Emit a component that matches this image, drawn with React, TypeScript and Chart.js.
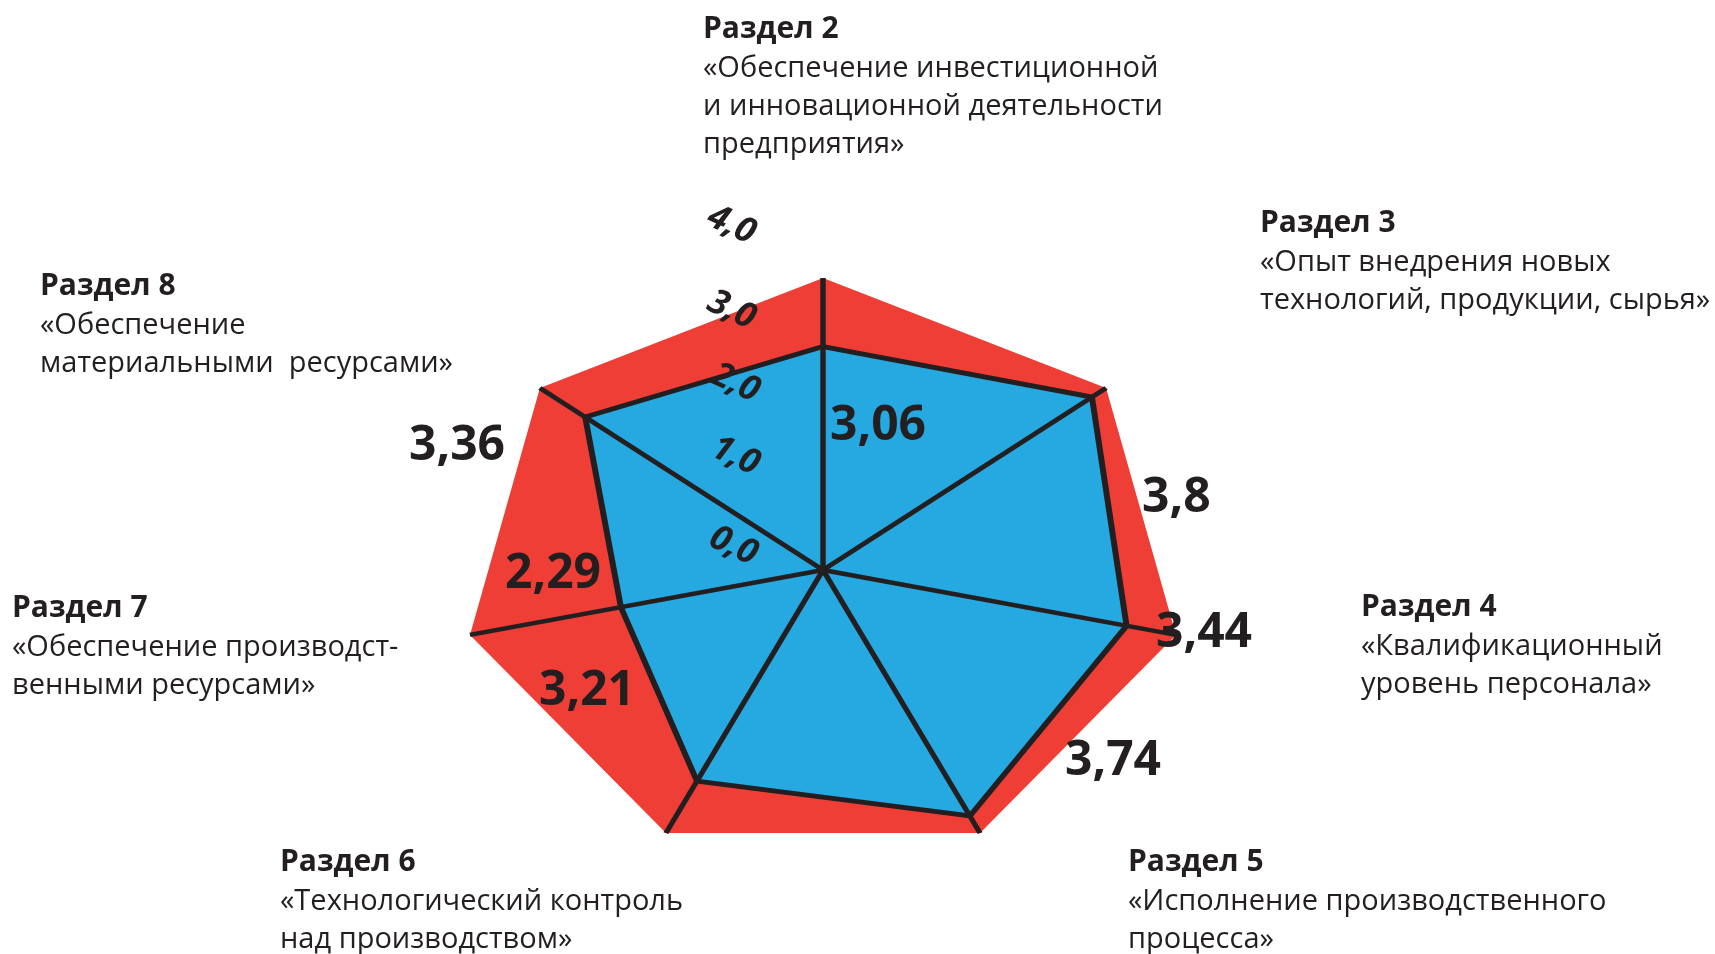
import React, { useEffect, useRef } from 'react';
import { Chart, registerables } from 'chart.js';

Chart.register(...registerables);

// ---------- data ----------
const categories = ['Раздел 2', 'Раздел 3', 'Раздел 4', 'Раздел 5', 'Раздел 6', 'Раздел 7', 'Раздел 8'];
const descriptions = [
  ['«Обеспечение инвестиционной', 'и инновационной деятельности', 'предприятия»'],
  ['«Опыт внедрения новых', 'технологий, продукции, сырья»'],
  ['«Квалификационный', 'уровень персонала»'],
  ['«Исполнение производственного', 'процесса»'],
  ['«Технологический контроль', 'над производством»'],
  ['«Обеспечение производст-', 'венными ресурсами»'],
  ['«Обеспечение', 'материальными  ресурсами»'],
];
const scores = [3.06, 3.8, 3.44, 3.74, 3.21, 2.29, 3.36];
const maxScores = [4, 4, 4, 4, 4, 4, 4];
const scoreLabels = ['3,06', '3,8', '3,44', '3,74', '3,21', '2,29', '3,36'];
const tickLabels = ['4,0', '3,0', '2,0', '1,0', '0,0'];

// ---------- layout / style ----------
const W = 1715;
const H = 954;
const RED = '#EF3E36';
const BLUE = '#25A9E0';
const INK = '#231F20';
const STRETCH_X = 1.24;
const FONT = '"Open Sans", "Noto Sans", sans-serif';

const blockPos = [
  { left: 703, base: 39 },
  { left: 1260, base: 233 },
  { left: 1361, base: 617 },
  { left: 1128, base: 872 },
  { left: 280, base: 872 },
  { left: 12, base: 618 },
  { left: 40, base: 296 },
];
const valuePos = [
  { left: 830, base: 440 },
  { left: 1142, base: 512 },
  { left: 1156, base: 647 },
  { left: 1065, base: 775 },
  { left: 539, base: 705 },
  { left: 505, base: 588 },
  { left: 409, base: 460 },
];
const tickPos = [
  { x: 733, y: 222 },
  { x: 733, y: 307 },
  { x: 737, y: 380 },
  { x: 737, y: 453 },
  { x: 735, y: 543 },
];

const TITLE_FS = 30;
const TEXT_FS = 29;
const FIRST_GAP = 38;
const LINE_GAP = 38;
const VALUE_FS = 48;
const TICK_FS = 35;

const ASC = 1.069;
const DESC = 0.293;
const topFor = (base: number, fs: number) => base - ASC * fs;

const stretchPlugin = {
  id: 'stretchX',
  beforeDraw(chart: any) {
    const r = chart.scales.r;
    const ctx = chart.ctx;
    ctx.save();
    ctx.translate(r.xCenter, 0);
    ctx.scale(STRETCH_X, 1);
    ctx.translate(-r.xCenter, 0);
  },
  afterDraw(chart: any) {
    chart.ctx.restore();
  },
};

function RadarChart() {
  const ref = useRef<HTMLCanvasElement | null>(null);
  useEffect(() => {
    if (!ref.current) return;
    const chart = new Chart(ref.current, {
      type: 'radar',
      data: {
        labels: categories,
        datasets: [
          {
            data: scores,
            backgroundColor: BLUE,
            borderColor: INK,
            borderWidth: 4.8,
            borderJoinStyle: 'miter',
            pointRadius: 0,
            fill: true,
            clip: false,
          },
          {
            data: maxScores,
            backgroundColor: RED,
            borderColor: 'rgba(0,0,0,0)',
            borderWidth: 1,
            pointRadius: 0,
            fill: true,
            clip: false,
          },
        ],
      } as any,
      options: {
        responsive: false,
        animation: false,
        events: [],
        layout: { padding: { left: 531, right: 600, top: 278, bottom: 92 } },
        plugins: { legend: { display: false }, tooltip: { enabled: false }, title: { display: false } },
        scales: {
          r: {
            min: 0,
            max: 4,
            ticks: { display: false, stepSize: 1 },
            grid: { display: false, z: 1 },
            angleLines: { display: true, color: INK, lineWidth: 4.4 },
            pointLabels: { display: false },
          },
        },
      } as any,
      plugins: [stretchPlugin],
    });
    return () => chart.destroy();
  }, []);
  return <canvas ref={ref} width={W} height={H} style={{ position: 'absolute', left: 0, top: 0 }} />;
}

export default function App() {
  return (
    <div
      style={{
        position: 'fixed',
        left: 0,
        top: 0,
        width: W,
        height: H,
        background: '#fff',
        overflow: 'hidden',
        fontFamily: FONT,
        color: INK,
      }}
    >
      <RadarChart />
      {categories.map((c, i) => (
        <div key={c}>
          <div
            style={{
              position: 'absolute',
              left: blockPos[i].left,
              top: topFor(blockPos[i].base, TITLE_FS),
              fontSize: TITLE_FS,
              fontWeight: 700,
              lineHeight: `${(ASC + DESC) * TITLE_FS}px`,
              whiteSpace: 'pre',
            }}
          >
            {c}
          </div>
          {descriptions[i].map((line, j) => (
            <div
              key={j}
              style={{
                position: 'absolute',
                left: blockPos[i].left,
                top: topFor(blockPos[i].base + FIRST_GAP + j * LINE_GAP, TEXT_FS),
                fontSize: TEXT_FS,
                fontWeight: 400,
                lineHeight: `${(ASC + DESC) * TEXT_FS}px`,
                whiteSpace: 'pre',
              }}
            >
              {line}
            </div>
          ))}
        </div>
      ))}
      {scoreLabels.map((s, i) => (
        <div
          key={'v' + i}
          style={{
            position: 'absolute',
            left: valuePos[i].left,
            top: topFor(valuePos[i].base, VALUE_FS),
            fontSize: VALUE_FS,
            fontWeight: 700,
            lineHeight: `${(ASC + DESC) * VALUE_FS}px`,
            whiteSpace: 'pre',
          }}
        >
          {s}
        </div>
      ))}
      {tickLabels.map((t, i) => (
        <div
          key={'t' + i}
          style={{
            position: 'absolute',
            left: tickPos[i].x,
            top: tickPos[i].y,
            fontSize: TICK_FS,
            fontWeight: 700,
            fontStyle: 'italic',
            lineHeight: 1,
            whiteSpace: 'pre',
            transform: 'translate(-50%, -50%) rotate(25deg)',
          }}
        >
          {t}
        </div>
      ))}
    </div>
  );
}
